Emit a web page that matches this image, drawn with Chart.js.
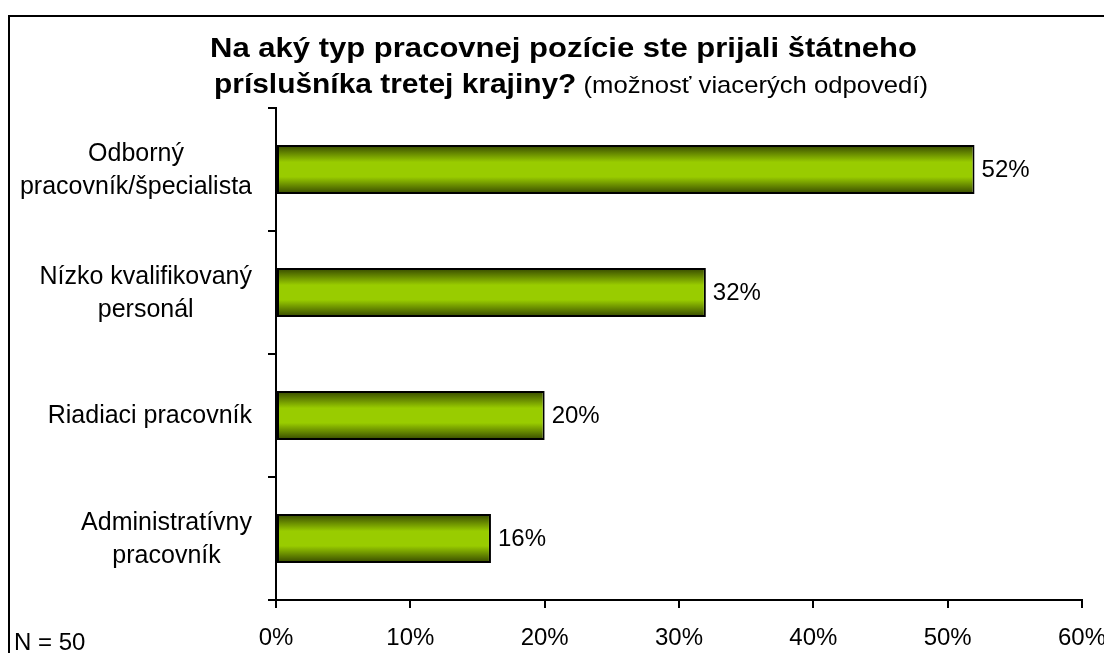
<!DOCTYPE html>
<html><head><meta charset="utf-8">
<script src="https://cdn.jsdelivr.net/npm/chart.js@4/dist/chart.umd.min.js"></script>
<style>html,body{margin:0;padding:0;background:#fff;overflow:hidden}#wrap{position:relative;width:1104px;height:653px}</style>
</head><body><div id="wrap"><canvas id="c" width="1104" height="653"></canvas></div>
<script>
const categories = [["Odborný","pracovník/špecialista"],["Nízko kvalifikovaný","personál"],["Riadiaci pracovník"],["Administratívny","pracovník"]];
const values = [52, 32, 20, 16];
const xTickValues = [0, 10, 20, 30, 40, 50, 60];
const titleLine1 = "Na aký typ pracovnej pozície ste prijali štátneho";
const titleLine2Bold = "príslušníka tretej krajiny?";
const titleLine2Note = " (možnosť viacerých odpovedí)";
const footnote = "N = 50";

const FONT = '"Liberation Sans", Arial, sans-serif';

function drawScaled(c, text, x, y, sx) {
  c.save();
  c.translate(x, y);
  c.scale(sx, 1);
  c.fillText(text, 0, 0);
  c.restore();
}

const framePlugin = {
  id: 'frame',
  beforeDraw(chart) {
    const c = chart.ctx;
    c.save();
    c.fillStyle = '#fff';
    c.fillRect(0, 0, chart.width, chart.height);
    c.strokeStyle = '#000';
    c.lineWidth = 2;
    c.strokeRect(9, 16, 1200, 800);
    c.restore();
  },
  afterDraw(chart) {
    const c = chart.ctx;
    c.save();
    c.fillStyle = '#000';
    c.textBaseline = 'alphabetic';
    c.textAlign = 'left';
    // Title line 1
    c.font = 'bold 28px ' + FONT;
    const w1 = c.measureText(titleLine1).width;
    const s = 707 / w1;
    drawScaled(c, titleLine1, 210, 57, s);
    // Title line 2
    const wb = c.measureText(titleLine2Bold).width;
    c.font = '24px ' + FONT;
    const wn = c.measureText(titleLine2Note).width;
    const s2 = 714 / (wb + wn);
    c.font = 'bold 28px ' + FONT;
    drawScaled(c, titleLine2Bold, 214, 93, s2);
    c.font = '24px ' + FONT;
    drawScaled(c, titleLine2Note, 214 + wb * s2, 93, s2);
    // footnote
    c.font = '24px ' + FONT;
    c.fillText(footnote, 14, 650);
    // category labels
    c.font = '25px ' + FONT;
    const ys = chart.scales.y;
    const right = 252, lh = 32.5;
    categories.forEach((lines, i) => {
      const y = ys.getPixelForValue(i);
      let maxW = 0;
      lines.forEach(l => { maxW = Math.max(maxW, c.measureText(l).width); });
      const cx = right - maxW / 2;
      c.textAlign = 'center';
      c.textBaseline = 'middle';
      lines.forEach((l, j) => {
        c.fillText(l, cx, y + 1 + (j - (lines.length - 1) / 2) * lh);
      });
    });
    // value labels
    c.font = '24px ' + FONT;
    const meta = chart.getDatasetMeta(0);
    c.textAlign = 'left';
    c.textBaseline = 'middle';
    meta.data.forEach((el, i) => {
      c.fillText(values[i] + '%', el.x + 7, el.y + 1);
    });
    c.restore();
  }
};

function barGradient(ctx) {
  const chart = ctx.chart;
  const area = chart.chartArea;
  const ys = chart.scales && chart.scales.y;
  if (!area || !ys) return '#99cc00';
  const H = area.bottom - area.top;
  const g = chart.ctx.createLinearGradient(0, area.top, 0, area.bottom);
  const band = H / categories.length;
  const h = band * 0.4 / 2;
  const clamp = v => Math.max(0, Math.min(1, v));
  for (let i = 0; i < categories.length; i++) {
    const c = ys.getPixelForValue(i);
    const t = y => clamp((y - area.top) / H);
    g.addColorStop(t(c - h), '#344600');
    g.addColorStop(t(c - h * 0.3), '#99cc00');
    g.addColorStop(t(c + h * 0.3), '#99cc00');
    g.addColorStop(t(c + h), '#344600');
  }
  return g;
}

new Chart(document.getElementById('c'), {
  type: 'bar',
  data: {
    labels: categories,
    datasets: [{
      data: values,
      backgroundColor: barGradient,
      borderColor: '#000',
      borderWidth: 2,
      borderSkipped: false,
      barPercentage: 0.4,
      categoryPercentage: 1
    }]
  },
  options: {
    indexAxis: 'y',
    responsive: false,
    animation: false,
    devicePixelRatio: 1,
    layout: { padding: { left: 0, top: 108, right: 22, bottom: 0 } },
    plugins: { legend: { display: false }, tooltip: { enabled: false }, title: { display: false } },
    scales: {
      x: {
        min: 0, max: 60,
        afterBuildTicks(scale) { scale.ticks = xTickValues.map(v => ({ value: v })); },
        afterFit(scale) { scale.height = 53; scale.paddingRight = 0; scale.paddingLeft = 0; },
        ticks: { callback: v => v + '%', color: '#000', font: { family: FONT, size: 24 }, padding: 16, maxRotation: 0 },
        grid: { drawOnChartArea: false, drawTicks: true, tickLength: 8, color: '#000', lineWidth: 2 },
        border: { color: '#000', width: 2 }
      },
      y: {
        afterFit(scale) { scale.width = 276; },
        ticks: { display: false },
        grid: { offset: true, drawOnChartArea: false, drawTicks: true, tickLength: 8, color: '#000', lineWidth: 2 },
        border: { color: '#000', width: 2 }
      }
    }
  },
  plugins: [framePlugin]
});
</script></body></html>
